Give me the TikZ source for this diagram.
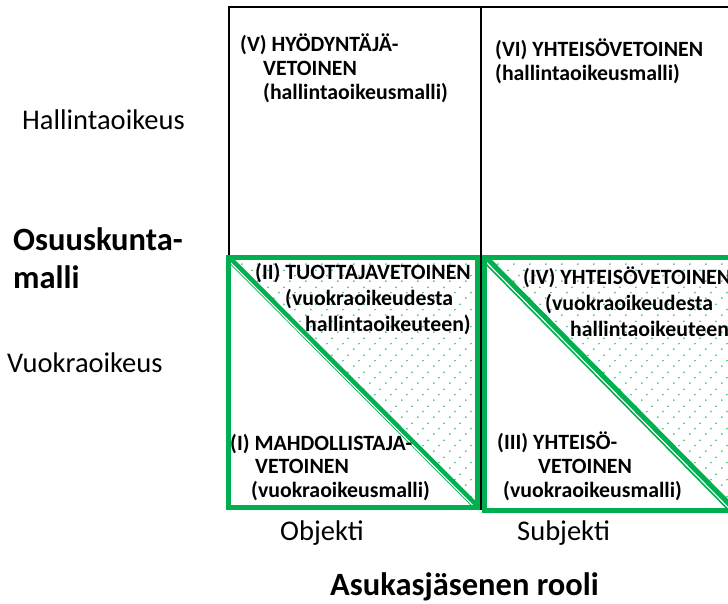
\documentclass[tikz,border=0pt]{standalone}
\usepackage{fontspec}
\setmainfont{Carlito}
\usetikzlibrary{patterns.meta}

\definecolor{mgreen}{HTML}{00B050}
\definecolor{dotgreen}{HTML}{1DB45E}

% sparse staggered green dot fill
\tikzdeclarepattern{
  name=greendots,
  type=colored,
  bounding box={(0pt,0pt) and (16pt,16.5pt)},
  tile size={(16pt,16.5pt)},
  code={
    \fill[dotgreen] (2pt,2pt) circle (0.9pt);
    \fill[dotgreen] (7.33pt,7.5pt) circle (0.9pt);
    \fill[dotgreen] (12.67pt,13pt) circle (0.9pt);
  }
}

\begin{document}
\begin{tikzpicture}[x=1pt,y=-1pt,
  lbl/.style={font=\fontsize{28.5}{34}\selectfont, inner sep=0pt, anchor=base west},
  hdr/.style={font=\bfseries\fontsize{32.5}{38}\selectfont, inner sep=0pt, anchor=base west},
  cell/.style={font=\bfseries\fontsize{21.8}{25}\selectfont, inner sep=0pt, anchor=base west},
  gridline/.style={line width=2pt, black},
  gbox/.style={draw=mgreen, line width=5pt},
  gdiag/.style={draw=mgreen, line width=6.5pt},
  gslit/.style={draw=white, line width=1.1pt},
]
\useasboundingbox (0,0) rectangle (728,603);
\fill[white] (0,0) rectangle (728,603);

% corners of the two green cells
\coordinate (b1nw) at (228,257.5);
\coordinate (b1ne) at (477,257.5);
\coordinate (b1se) at (477,507);
\coordinate (b2nw) at (484,257.5);
\coordinate (b2ne) at (733,257.5);
\coordinate (b2se) at (733,510);

% outer frame of the upper row
\coordinate (fsw) at (229,257);
\coordinate (fnw) at (229,7);
\coordinate (fne) at (745,7);
\coordinate (mtop) at (481,7);
\coordinate (mbot) at (481,510);
\draw[gridline] (fsw) -- (fnw) -- (fne);

% dotted upper triangles
\fill[pattern=greendots] (b1nw) -- (b1ne) -- (b1se) -- cycle;
\fill[pattern=greendots] (b2nw) -- (b2ne) -- (b2se) -- cycle;

% diagonals: a wide green band with a thin light slit near its lower edge
\begin{scope}
  \clip (b1nw) rectangle (b1se);
  \draw[gdiag] (b1nw) -- (b1se);
  \draw[gslit] ([shift={(-1.3,1.3)}]b1nw) -- ([shift={(-1.3,1.3)}]b1se);
\end{scope}
\begin{scope}
  \clip (b2nw) rectangle (b2se);
  \draw[gdiag, line width=8pt] (b2nw) -- (b2se);
  \draw[gslit] ([shift={(-1.2,1.2)}]b2nw) -- ([shift={(-1.2,1.2)}]b2se);
\end{scope}

% green cell borders
\draw[gbox] (b1nw) rectangle (b1se);
\draw[gbox] (b2nw) rectangle (b2se);

% middle divider
\draw[gridline] (mtop) -- (mbot);

% row labels
\node[lbl] (hal) at (22,129) {Hallintaoikeus};
\node[hdr] (osk) at (13,250) {Osuuskunta-};
\node[hdr] (mal) at (13,288) {malli};
\node[lbl] (vuo) at (7,372.5) {Vuokraoikeus};

% column labels
\node[lbl] (obj) at (280,540) {Objekti};
\node[lbl] (sub) at (517,540) {Subjekti};
\node[hdr] (aro) at (330,595.5) {Asukasjäsenen rooli};

% (V)
\node[cell] (v1) at (240,51.5) {(V) HYÖDYNTÄJÄ-};
\node[cell] (v2) at (263,75.5) {VETOINEN};
\node[cell] (v3) at (263,99.5) {(hallintaoikeusmalli)};

% (VI)
\node[cell] (vi1) at (495,56) {(VI) YHTEISÖVETOINEN};
\node[cell] (vi2) at (495,80) {(hallintaoikeusmalli)};

% (II)
\node[cell] (ii1) at (255,279.5) {(II) TUOTTAJAVETOINEN};
\node[cell] (ii2) at (285,305) {(vuokraoikeudesta};
\node[cell] (ii3) at (305,331) {hallintaoikeuteen)};

% (I)
\node[cell] (i1) at (230,450) {(I) MAHDOLLISTAJA-};
\node[cell] (i2) at (255,473.5) {VETOINEN};
\node[cell] (i3) at (251,497) {(vuokraoikeusmalli)};

% (IV)
\node[cell] (iv1) at (523,284) {(IV) YHTEISÖVETOINEN};
\node[cell] (iv2) at (545,310) {(vuokraoikeudesta};
\node[cell] (iv3) at (570,336) {hallintaoikeuteen)};

% (III)
\node[cell] (iii1) at (497,449.5) {(III) YHTEISÖ-};
\node[cell] (iii2) at (538,473) {VETOINEN};
\node[cell] (iii3) at (503,497) {(vuokraoikeusmalli)};
\end{tikzpicture}
\end{document}
